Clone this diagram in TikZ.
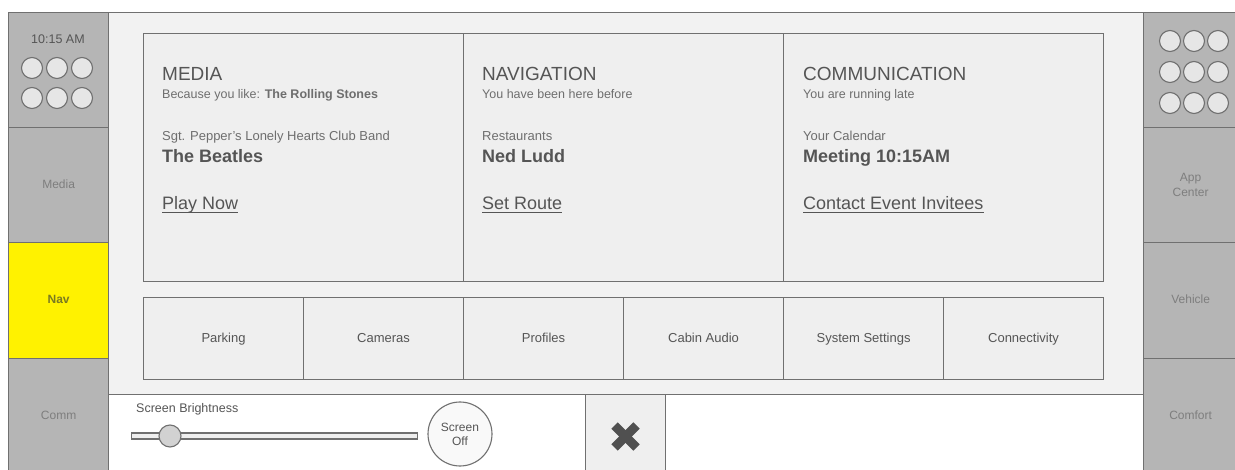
\documentclass[tikz,border=0pt]{standalone}
\usepackage{fontspec}
\setmainfont{Liberation Sans}
\definecolor{side}{HTML}{B5B5B5}
\definecolor{edge}{HTML}{707070}
\definecolor{panel}{HTML}{F2F2F2}
\definecolor{card}{HTML}{EFEFEF}
\definecolor{txt}{HTML}{555555}
\definecolor{txtl}{HTML}{6E6E6E}
\definecolor{sidetxt}{HTML}{7E7E7E}
\definecolor{navtxt}{HTML}{7A7A22}
\definecolor{dot}{HTML}{E6E6E6}
\definecolor{knob}{HTML}{D2D2D2}
\definecolor{xcol}{HTML}{505050}
\newcommand{\fs}[1]{\fontsize{#1}{#1}\selectfont}
\begin{document}
\begin{tikzpicture}[x=1pt,y=-1pt,
  sidebox/.style={draw=edge,line width=1.3pt,fill=side,inner sep=0,minimum width=100pt,anchor=north west,text=sidetxt,font=\fs{12},align=center},
  rsidebox/.style={sidebox,minimum width=94pt},
  cardbox/.style={draw=edge,line width=1.1pt,fill=card,inner sep=0,minimum width=320pt,minimum height=248pt,anchor=north west},
  btnbox/.style={draw=edge,line width=1.1pt,fill=card,inner sep=0,minimum width=160pt,minimum height=82pt,anchor=north west,text=txt,font=\fs{13},text height=9.5pt,text depth=2.5pt},
  dotc/.style={circle,draw=edge,line width=1.1pt,fill=dot,minimum size=21pt,inner sep=0},
  lbl/.style={anchor=base west,inner sep=0},
  title/.style={lbl,text=txt,font=\fs{19}},
  sub/.style={lbl,text=txtl,font=\fs{12.5}},
  big/.style={lbl,text=txt,font=\bfseries\fs{18}},
  link/.style={lbl,text=txt,font=\fs{18}}
]
\useasboundingbox (0,0) rectangle (1235,470);
\fill[white] (0,0) rectangle (1235,470);
% main panel
\node[draw=edge,line width=1.1pt,fill=panel,inner sep=0,minimum width=1035pt,minimum height=382pt,anchor=north west] (panel) at (108,12) {};
% left column
\node[sidebox,minimum height=115pt] (clock) at (8,12) {};
\node[anchor=base,inner sep=0,text=txt,font=\fs{12.5}] (time) at (58,44) {10:15 AM};
\foreach \i/\x in {1/32,2/57,3/82}{
  \node[dotc] (la\i) at (\x,68) {};
  \node[dotc] (lb\i) at (\x,98) {};
}
\node[sidebox,minimum height=115pt,text height=9pt,text depth=2.5pt] (media) at (8,127) {Media};
\node[sidebox,minimum height=116pt,fill=yellow,text=navtxt,font=\bfseries\fs{12},text height=9pt,text depth=2.5pt] (nav) at (8,242) {Nav};
\node[sidebox,minimum height=116pt,text height=9pt,text depth=2.5pt] (comm) at (8,358) {Comm};
% right column
\node[rsidebox,minimum height=115pt] (apps) at (1143,12) {};
\foreach \i/\x in {1/1170,2/1194,3/1218}{
  \node[dotc] (ra\i) at (\x,41) {};
  \node[dotc] (rb\i) at (\x,72) {};
  \node[dotc] (rc\i) at (\x,103) {};
}
\node[rsidebox,minimum height=115pt] (appc) at (1143,127) {App\\[3pt]Center};
\node[rsidebox,minimum height=116pt,text height=9pt,text depth=2.5pt] (veh) at (1143,242) {Vehicle};
\node[rsidebox,minimum height=116pt,text height=9pt,text depth=2.5pt] (comf) at (1143,358) {Comfort};
% cards
\node[cardbox] (cmedia) at (143,33) {};
\node[cardbox] (cnav) at (463,33) {};
\node[cardbox] (ccomm) at (783,33) {};
% media card text
\node[title] (tmedia) at (162,81) {MEDIA};
\node[sub] (smedia) at (162,99) {Because you like: \textbf{The Rolling Stones}};
\node[sub,font=\fs{13}] (amedia) at (162,141) {Sgt. Pepper's Lonely Hearts Club Band};
\node[big] (bmedia) at (162,163) {The Beatles};
\node[link] (lmedia) at (162,210) {Play Now};
\draw[txt,line width=0.9pt] ([yshift=-2pt]lmedia.base west) -- ([yshift=-2pt]lmedia.base east);
% navigation card text
\node[title] (tnav) at (482,81) {NAVIGATION};
\node[sub] (snav) at (482,99) {You have been here before};
\node[sub,font=\fs{13}] (anav) at (482,141) {Restaurants};
\node[big] (bnav) at (482,163) {Ned Ludd};
\node[link] (lnav) at (482,210) {Set Route};
\draw[txt,line width=0.9pt] ([yshift=-2pt]lnav.base west) -- ([yshift=-2pt]lnav.base east);
% communication card text
\node[title] (tcomm) at (803,81) {COMMUNICATION};
\node[sub] (scomm) at (803,99) {You are running late};
\node[sub,font=\fs{13}] (acomm) at (803,141) {Your Calendar};
\node[big] (bcomm) at (803,163) {Meeting 10:15AM};
\node[link] (lcomm) at (803,210) {Contact Event Invitees};
\draw[txt,line width=0.9pt] ([yshift=-2pt]lcomm.base west) -- ([yshift=-2pt]lcomm.base east);
% buttons
\node[btnbox] (park) at (143,297) {Parking};
\node[btnbox] (cam) at (303,297) {Cameras};
\node[btnbox] (prof) at (463,297) {Profiles};
\node[btnbox] (cabin) at (623,297) {Cabin Audio};
\node[btnbox] (sys) at (783,297) {System Settings};
\node[btnbox] (conn) at (943,297) {Connectivity};
% bottom bar
\node[lbl,text=txt,font=\fs{12.5}] (bright) at (136,413) {Screen Brightness};
\node[draw=edge,line width=1.1pt,fill=card,inner sep=0,minimum width=286pt,minimum height=6pt,anchor=west] (track) at (131,436) {};
\node[circle,draw=edge,line width=1.1pt,fill=knob,minimum size=22pt,inner sep=0] (knob) at (170,436) {};
\node[circle,draw=edge,line width=1.1pt,fill=white!60!card,minimum size=64pt,inner sep=0,text=txt,font=\fs{12},align=center] (off) at (460,434) {Screen\\[2pt]Off};
\node[draw=edge,line width=1.1pt,fill=card,inner sep=0,minimum width=80pt,minimum height=80pt,anchor=north west] (close) at (585,394) {};
\draw[xcol,line width=9pt] ([shift={(-11pt,11pt)}]close.center) ++(0,-2pt) -- ++(22pt,-22pt);
\draw[xcol,line width=9pt] ([shift={(-11pt,-11pt)}]close.center) ++(0,-2pt) -- ++(22pt,22pt);
\end{tikzpicture}
\end{document}
